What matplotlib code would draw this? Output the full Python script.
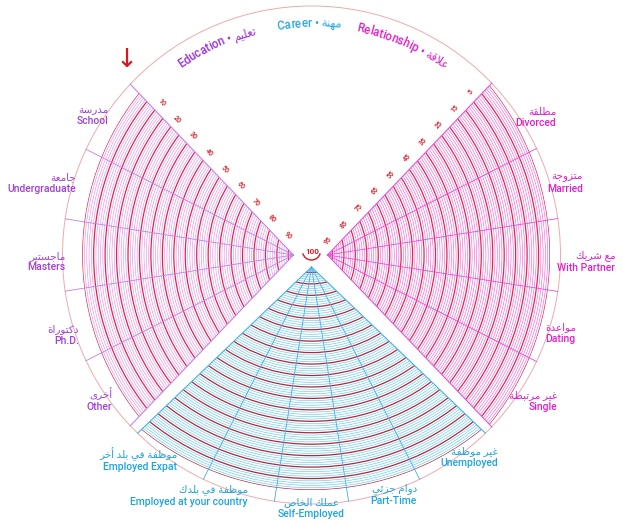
import numpy as np
import matplotlib
matplotlib.use('Agg')
import matplotlib.pyplot as plt
from matplotlib.patches import Circle, Polygon, Arc

# ---------------- data ----------------
edu_en = ['School', 'Undergraduate', 'Masters', 'Ph.D.', 'Other']
edu_ar = ['مدرسة', 'جامعة', 'ماجستير', 'دكتوراة', 'أخرى']
car_en = ['Employed Expat', 'Employed at your country', 'Self-Employed', 'Part-Time', 'Unemployed']
car_ar = ['موظفة في بلد أخر', 'موظفة في بلدك', 'عملك الخاص', 'دوام جزئي', 'غير موظفة']
rel_en = ['Divorced', 'Married', 'With Partner', 'Dating', 'Single']
rel_ar = ['مطلقة', 'متزوجة', 'مع شريك', 'مواعدة', 'غير مرتبطة']
section_en = ['Education', 'Career', 'Relationship']
section_ar = ['تعليم', 'مهنة', 'علاقة']
edu_ticks = [10, 20, 30, 40, 50, 60, 70, 80, 90]
rel_ticks = [5, 15, 25, 35, 45, 55, 65, 75, 85, 95]
center_value = 100
edu_scale = list(range(5, 101))    # one ring per unit
car_scale = list(range(0, 101))
rel_scale = list(range(0, 101))
major_every = 5

# ---------------- arabic shaping (presentation forms, visual order) ----------------
_AR = {'آ': (0xFE81, 0), 'أ': (0xFE83, 0), 'ؤ': (0xFE85, 0), 'إ': (0xFE87, 0), 'ئ': (0xFE89, 1),
       'ا': (0xFE8D, 0), 'ب': (0xFE8F, 1), 'ة': (0xFE93, 0), 'ت': (0xFE95, 1), 'ث': (0xFE99, 1),
       'ج': (0xFE9D, 1), 'ح': (0xFEA1, 1), 'خ': (0xFEA5, 1), 'د': (0xFEA9, 0), 'ذ': (0xFEAB, 0),
       'ر': (0xFEAD, 0), 'ز': (0xFEAF, 0), 'س': (0xFEB1, 1), 'ش': (0xFEB5, 1), 'ص': (0xFEB9, 1),
       'ض': (0xFEBD, 1), 'ط': (0xFEC1, 1), 'ظ': (0xFEC5, 1), 'ع': (0xFEC9, 1), 'غ': (0xFECD, 1),
       'ف': (0xFED1, 1), 'ق': (0xFED5, 1), 'ك': (0xFED9, 1), 'ل': (0xFEDD, 1), 'م': (0xFEE1, 1),
       'ن': (0xFEE5, 1), 'ه': (0xFEE9, 1), 'و': (0xFEED, 0), 'ى': (0xFEEF, 0), 'ي': (0xFEF1, 1)}
_LA = {'آ': 0xFEF5, 'أ': 0xFEF7, 'إ': 0xFEF9, 'ا': 0xFEFB}


def shape_ar(s):
    out = []
    n = len(s)
    i = 0
    while i < n:
        c = s[i]
        if c not in _AR:
            out.append(c)
            i += 1
            continue
        prev = s[i - 1] if i > 0 else None
        pj = prev in _AR and _AR[prev][1] == 1
        if c == 'ل' and i + 1 < n and s[i + 1] in _LA:
            out.append(chr(_LA[s[i + 1]] + (1 if pj else 0)))
            i += 2
            continue
        nxt = s[i + 1] if i + 1 < n else None
        iso, dual = _AR[c]
        nj = dual == 1 and nxt in _AR
        if dual:
            form = 3 if (pj and nj) else 1 if pj else 2 if nj else 0
        else:
            form = 1 if pj else 0
        out.append(chr(iso + form))
        i += 1
    return ''.join(reversed(out))


# ---------------- figure ----------------
plt.rcParams['font.family'] = ['Roboto', 'DejaVu Sans']
fig = plt.figure(figsize=(6.23, 5.23), dpi=100)
ax = fig.add_axes([0, 0, 1, 1])
ax.set_xlim(0, 623)
ax.set_ylim(523, 0)
ax.axis('off')
renderer = fig.canvas.get_renderer()

CX, CY, R = 311.5, 255.0, 249.0
K = 2.29          # px per unit


def P(ox, oy, ang, r):
    a = np.deg2rad(ang)
    return ox + r * np.cos(a), oy - r * np.sin(a)


def ray_circle(A, ang, C, r):
    a = np.deg2rad(ang)
    d = np.array([np.cos(a), -np.sin(a)])
    w = np.array(A) - np.array(C)
    b = d @ w
    c = w @ w - r * r
    return -b + np.sqrt(b * b - c)


sections = [
    dict(bis=180, apex=18, roff=-30, rout=259.3, half=46.3, scale=edu_scale, en=edu_en, ar=edu_ar,
         minor='#e393ea', major='#e0234e', spoke='#c47fe8', label='#a03fd8',
         lab_ang=[145.5, 163, 181.5, 199, 216], lab_r=[246] * 5),
    dict(bis=270, apex=12, roff=-35, rout=270, half=46.3, scale=car_scale, en=car_en, ar=car_ar,
         minor='#68c7ef', major='#a82a3c', spoke='#3fb0e8', label='#1ea4e0',
         lab_ang=[235, 254.5, 270, 284.5, 304], lab_r=[234, 238, 242, 236, 231]),
    dict(bis=0, apex=16, roff=-30, rout=268.5, half=46.3, scale=rel_scale, en=rel_en, ar=rel_ar,
         minor='#ee68dd', major='#e3244f', spoke='#e04fda', label='#e11fcb',
         lab_ang=[34, 17, -1.5, -18.5, -36.5], lab_r=[246] * 5),
]

for s in sections:
    A = P(CX, CY, s['bis'], s['apex'])
    RC = P(CX, CY, s['bis'], s['roff'])
    vmin = s['scale'][0]
    rr = lambda v, s=s, vmin=vmin: s['rout'] - (v - vmin) * K
    rmax = s['rout']
    e1, e2 = s['bis'] + s['half'], s['bis'] - s['half']
    pts = [A]
    angs = []
    for e in (e1, e2):
        t = ray_circle(A, e, RC, rmax)
        q = P(A[0], A[1], e, t)
        ang = np.degrees(np.arctan2(-(q[1] - RC[1]), q[0] - RC[0]))
        ang = (ang - s['bis'] + 180) % 360 - 180 + s['bis']
        angs.append(ang)
    for ang in np.linspace(angs[0], angs[1], 200):
        pts.append(P(RC[0], RC[1], ang, rmax))
    clip = Polygon(pts, closed=True, facecolor='none', edgecolor='none')
    ax.add_patch(clip)
    for v in s['scale']:
        major = v % major_every == 0
        c = Circle(RC, rr(v), fill=False,
                   lw=0.9 if major else 0.45,
                   color=s['major'] if major else s['minor'],
                   zorder=3 if major else 2)
        ax.add_patch(c)
        c.set_clip_path(clip)
    # edges and spokes
    for k, e in enumerate([e1, s['bis'] + 27, s['bis'] + 9, s['bis'] - 9, s['bis'] - 27, e2]):
        t = ray_circle(A, e, (CX, CY), R)
        q = P(A[0], A[1], e, t)
        ax.plot([A[0], q[0]], [A[1], q[1]], color=s['spoke'],
                lw=0.75 if k in (0, 5) else 0.6, zorder=4)
    s['A'] = A

    # category labels
    for i, (en, ar) in enumerate(zip(s['en'], s['ar'])):
        ang = s['lab_ang'][i]
        x, y = P(CX, CY, ang, s['lab_r'][i])
        ca = np.cos(np.deg2rad(ang))
        ha = 'right' if ca < -0.2 else 'left' if ca > 0.2 else 'center'
        va = 'top' if s['bis'] == 270 else 'center'
        ax.text(x, y, shape_ar(ar) + '\n' + en, ha=ha, va=va,
                multialignment='right' if ha != 'center' else 'center',
                fontsize=7.5, fontweight='medium', color=s['label'],
                linespacing=1.2, zorder=6)

# outer circle
ax.add_patch(Circle((CX, CY), R, fill=False, lw=0.7, color='#efaaaa', zorder=1))

# tick labels along the upper edges
for s, ticks, t0 in ((sections[0], edu_ticks, -4.8), (sections[2], rel_ticks, -0.9)):
    e = 180 - s['half'] if s['bis'] == 180 else s['half']
    normal = e - 90 if s['bis'] == 180 else e + 90
    rot = e - 180 if s['bis'] == 180 else e
    for v in ticks:
        t = t0 + (center_value - v) * K
        x, y = P(s['A'][0], s['A'][1], e, t)
        x, y = P(x, y, normal, 9.5)
        ax.text(x, y, str(v), fontsize=5, color='#d8303a', rotation=rot,
                fontweight='bold', ha='center', va='center', zorder=6)

# centre value
ax.text(CX + 1, CY - 3, str(center_value), fontsize=5.8, color='#c8202a',
        fontweight='bold', ha='center', va='center', zorder=6)
ax.add_patch(Arc((CX, CY - 4), 18, 18, theta1=15, theta2=165, color='#d02a30', lw=1.1, zorder=6))


# section titles curved along the top arc
def text_width(s, **kw):
    t = ax.text(0, 0, s, **kw)
    w = t.get_window_extent(renderer).width
    t.remove()
    return w


title_cols = ['#9b30d9', '#2aa8e0', '#e020c8']
title_angs = [114.5, 90.5, 66.5]
TR = 233.0
tkw = dict(fontsize=8.3, fontweight='medium')
sp = text_width('a a', **tkw) - text_width('aa', **tkw)
for en, ar, col, ang in zip(section_en, section_ar, title_cols, title_angs):
    chunks = list(en + ' • ') + [shape_ar(ar)]
    widths = [sp if c == ' ' else text_width(c, **tkw) for c in chunks]
    total = sum(widths)
    pos = -total / 2
    for c, w in zip(chunks, widths):
        mid = pos + w / 2
        pos += w
        if c == ' ':
            continue
        a = ang - np.degrees(mid / TR)
        x, y = P(CX, CY, a, TR)
        ax.text(x, y, c, color=col, rotation=a - 90, ha='center', va='center_baseline',
                rotation_mode='anchor', zorder=6, **tkw)

# red arrow
ax.text(127, 60, '↓', fontsize=19, color='#e0141e', ha='center', va='center',
        family='DejaVu Sans', zorder=6)

fig.savefig('out.png', dpi=100, facecolor='white')
